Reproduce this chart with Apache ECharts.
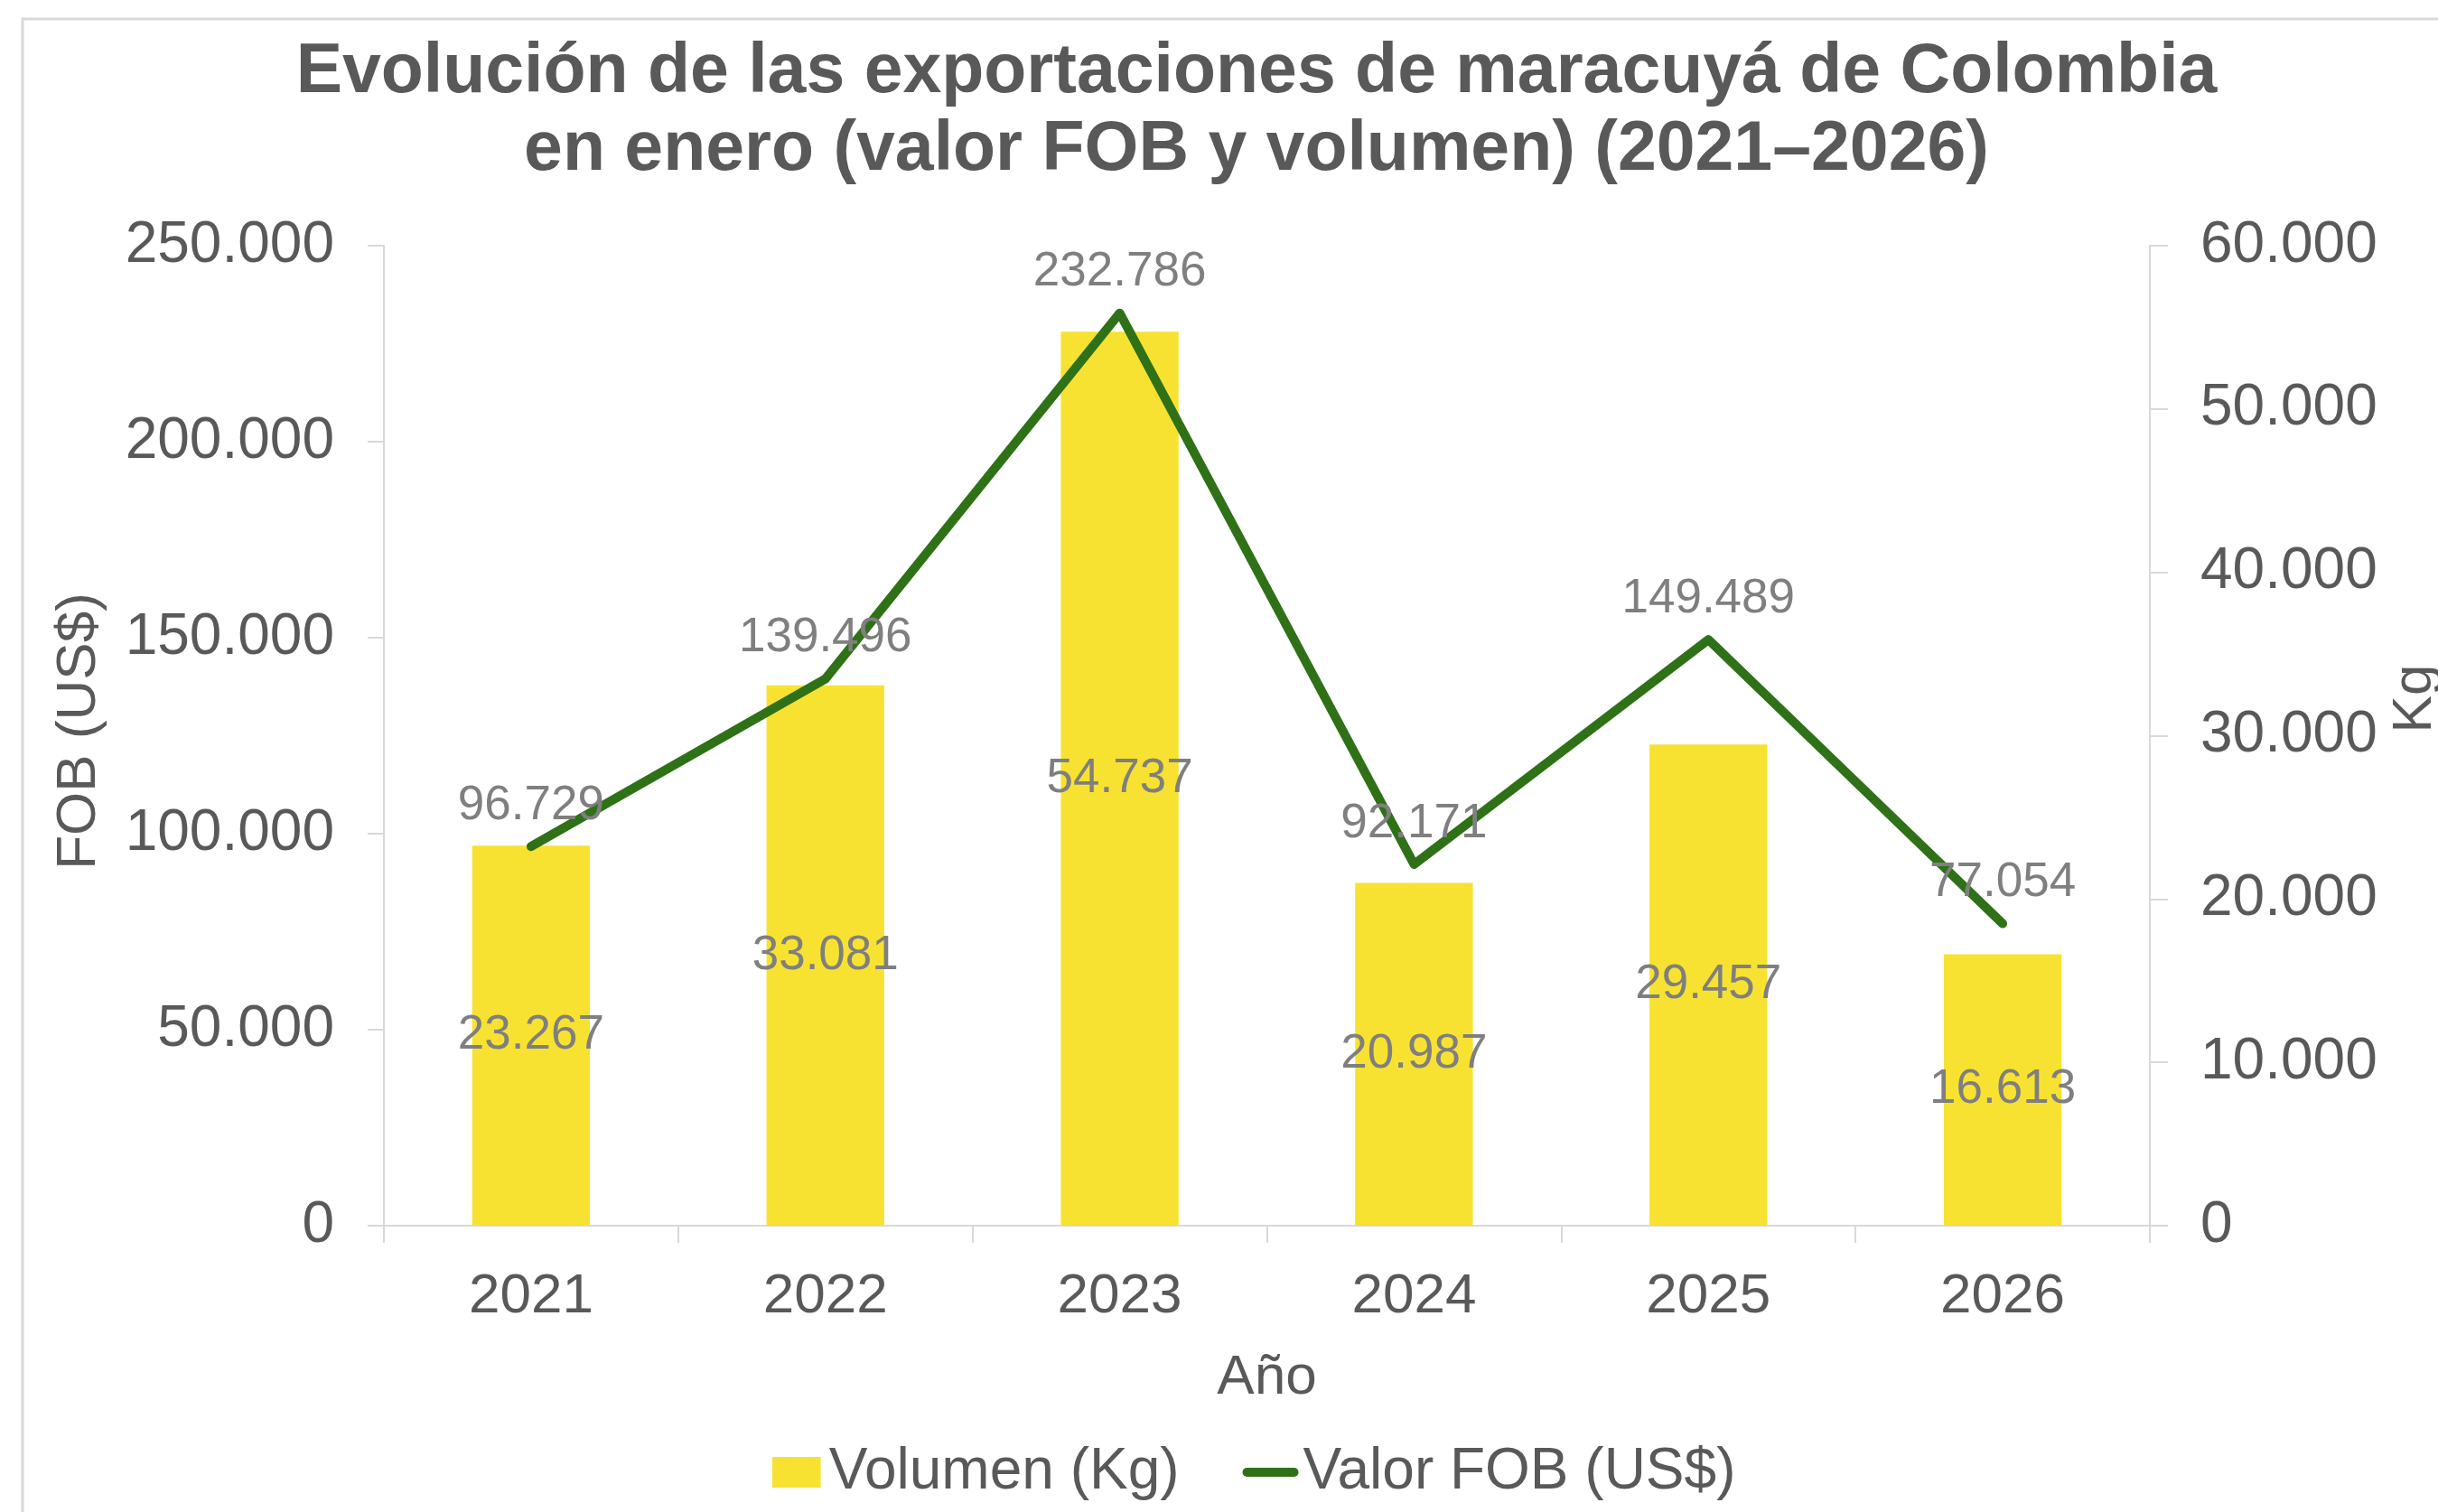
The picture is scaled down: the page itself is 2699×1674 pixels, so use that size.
<!DOCTYPE html>
<html>
<head>
<meta charset="utf-8">
<script src="https://cdn.jsdelivr.net/npm/echarts@6/dist/echarts.min.js"></script>
<style>
html,body{margin:0;padding:0;background:#fff;}
#chart{width:2699px;height:1674px;}
</style>
</head>
<body>
<div id="chart"></div>
<script>
const years = ['2021', '2022', '2023', '2024', '2025', '2026'];
const volumenKg = [23267, 33081, 54737, 20987, 29457, 16613];
const valorFOB = [96729, 139496, 232786, 92171, 149489, 77054];
const leftTicks = { min: 0, max: 250000, interval: 50000 };
const rightTicks = { min: 0, max: 60000, interval: 10000 };

const FONT = "'Liberation Sans', Arial, sans-serif";
const AXIS_GRAY = '#595959';
const LABEL_GRAY = '#7f7f7f';
const LINE_GRAY = '#d9d9d9';

function fmt(v) {
  return String(Math.round(v)).replace(/\B(?=(\d{3})+(?!\d))/g, '.');
}

const chart = echarts.init(document.getElementById('chart'), null, { renderer: 'canvas' });

const option = {
  backgroundColor: '#ffffff',
  animation: false,
  textStyle: { fontFamily: FONT },
  graphic: [{
    type: 'rect',
    shape: { x: 25, y: 21, width: 2800, height: 1720 },
    style: { fill: 'none', stroke: '#d9d9d9', lineWidth: 3 },
    silent: true,
    z: -10
  }],
  title: {
    text: 'Evolución de las exportaciones de maracuyá de Colombia\nen enero (valor FOB y volumen) (2021–2026)',
    left: 1386,
    textAlign: 'center',
    top: 33,
    textStyle: {
      fontFamily: FONT,
      fontSize: 77,
      fontWeight: 'bold',
      color: AXIS_GRAY,
      lineHeight: 86
    }
  },
  legend: {
    left: 850,
    top: 1590,
    itemWidth: 62,
    itemHeight: 34,
    itemGap: 70,
    symbolKeepAspect: true,
    textStyle: { fontFamily: FONT, fontSize: 64, color: AXIS_GRAY, lineHeight: 70 },
    data: [
      { name: 'Volumen (Kg)', icon: 'path://M0,0H52V33H0Z' },
      { name: 'Valor FOB (US$)', icon: 'path://M5,0H57A5,5 0 0 1 57,10H5A5,5 0 0 1 5,0Z' }
    ]
  },
  grid: { left: 425, right: 319, top: 272, bottom: 317, containLabel: false, outerBoundsMode: 'none' },
  xAxis: {
    type: 'category',
    data: years,
    name: 'Año',
    nameLocation: 'middle',
    nameGap: 138,
    nameTextStyle: { fontFamily: FONT, fontSize: 62, color: AXIS_GRAY, lineHeight: 62 },
    axisLine: { show: true, lineStyle: { color: LINE_GRAY, width: 2 } },
    axisTick: { show: true, alignWithLabel: false, length: 19, lineStyle: { color: LINE_GRAY, width: 2 } },
    axisLabel: { margin: 48, fontFamily: FONT, fontSize: 62, color: AXIS_GRAY, lineHeight: 62 },
    splitLine: { show: false }
  },
  yAxis: [
    {
      type: 'value',
      position: 'left',
      min: leftTicks.min,
      max: leftTicks.max,
      interval: leftTicks.interval,
      name: 'FOB (US$)',
      nameLocation: 'middle',
      nameGap: 306,
      nameTextStyle: { fontFamily: FONT, fontSize: 62, color: AXIS_GRAY, lineHeight: 62, padding: [0, 0, 0, 10] },
      axisLine: { show: true, lineStyle: { color: LINE_GRAY, width: 2 } },
      axisTick: { show: true, length: 18, lineStyle: { color: LINE_GRAY, width: 2 } },
      axisLabel: { margin: 55, fontFamily: FONT, fontSize: 64, color: AXIS_GRAY, formatter: fmt },
      splitLine: { show: false }
    },
    {
      type: 'value',
      position: 'right',
      min: rightTicks.min,
      max: rightTicks.max,
      interval: rightTicks.interval,
      name: 'Kg',
      nameLocation: 'middle',
      nameGap: 261,
      nameTextStyle: { fontFamily: FONT, fontSize: 62, color: AXIS_GRAY, lineHeight: 62, padding: [0, 0, 0, 82] },
      axisLine: { show: true, lineStyle: { color: LINE_GRAY, width: 2 } },
      axisTick: { show: true, length: 20, lineStyle: { color: LINE_GRAY, width: 2 } },
      axisLabel: { margin: 56, fontFamily: FONT, fontSize: 64, color: AXIS_GRAY, formatter: fmt },
      splitLine: { show: false }
    }
  ],
  series: [
    {
      name: 'Volumen (Kg)',
      type: 'bar',
      yAxisIndex: 1,
      data: volumenKg,
      barWidth: '40%',
      itemStyle: { color: '#F8E231' },
      label: {
        show: true,
        position: 'inside',
        fontFamily: FONT,
        fontSize: 53,
        color: LABEL_GRAY,
        formatter: p => fmt(p.value)
      },
      z: 2
    },
    {
      name: 'Valor FOB (US$)',
      type: 'line',
      yAxisIndex: 0,
      data: valorFOB,
      symbol: 'circle',
      symbolSize: 1,
      showSymbol: true,
      itemStyle: { color: '#2F7117' },
      lineStyle: { color: '#2F7117', width: 10, cap: 'round', join: 'round' },
      label: {
        show: true,
        position: 'top',
        distance: 18,
        fontFamily: FONT,
        fontSize: 53,
        lineHeight: 53,
        color: LABEL_GRAY,
        formatter: p => fmt(p.value)
      },
      z: 3
    }
  ]
};

chart.setOption(option);
</script>
</body>
</html>
